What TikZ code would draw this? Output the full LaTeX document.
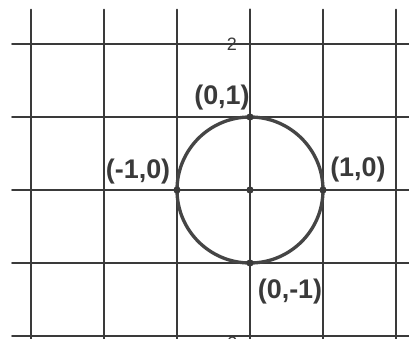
\documentclass[tikz,border=0pt]{standalone}
\usepackage{fontspec}
\setsansfont{Liberation Sans}
\definecolor{gridink}{HTML}{3A3A3A}
\definecolor{curveink}{HTML}{454545}

\begin{document}
\begin{tikzpicture}[x=1cm, y=1cm, line width=0.8pt, line cap=round, line join=round,
    ptlabel/.style={text=gridink, inner sep=0pt, font=\sffamily\bfseries\fontsize{10.5}{12}\selectfont},
    ticklabel/.style={text=gridink, inner sep=0pt, font=\sffamily\fontsize{7}{8}\selectfont}]
  % 画布大小（与原图比例一致），超出部分裁掉
  \useasboundingbox (-3.425,-2.041) rectangle (2.178,2.603);
  \clip (-3.425,-2.041) rectangle (2.178,2.603);

  \coordinate (O) at (0,0);
  \coordinate (N) at (0,1);
  \coordinate (S) at (0,-1);
  \coordinate (E) at (1,0);
  \coordinate (W) at (-1,0);

  % 方格：横线从左侧稍空处开始，竖线顶部留白
  \foreach \y in {-2,...,2}
    \draw[gridink] (-3.26,\y) -- (2.3,\y);
  \foreach \x in {-3,...,2}
    \draw[gridink] (\x,2.47) -- (\x,-2.2);
  % y 轴略粗
  \draw[gridink, line width=1.0pt] (0,2.47) -- (0,-2.2);

  % 单位圆
  \draw[curveink, line width=1.3pt] (O) circle (1);

  % 圆与坐标轴的交点及圆心
  \foreach \p in {O,N,S,E,W} { \fill[gridink] (\p) circle (1.4pt); }

  % 刻度数字（下方那个被画布边缘截去一半）
  \node[ticklabel] (tick2)  at (-0.25,2.0)   {2};
  \node[ticklabel] (tickm2) at (-0.24,-2.1)  {2};

  % 交点坐标
  \node[ptlabel] (lblN) at (-0.384,1.26)  {(0,1)};
  \node[ptlabel] (lblE) at (1.479,0.274)  {(1,0)};
  \node[ptlabel] (lblW) at (-1.534,0.247) {(-1,0)};
  \node[ptlabel] (lblS) at (0.548,-1.397) {(0,-1)};
\end{tikzpicture}
\end{document}
